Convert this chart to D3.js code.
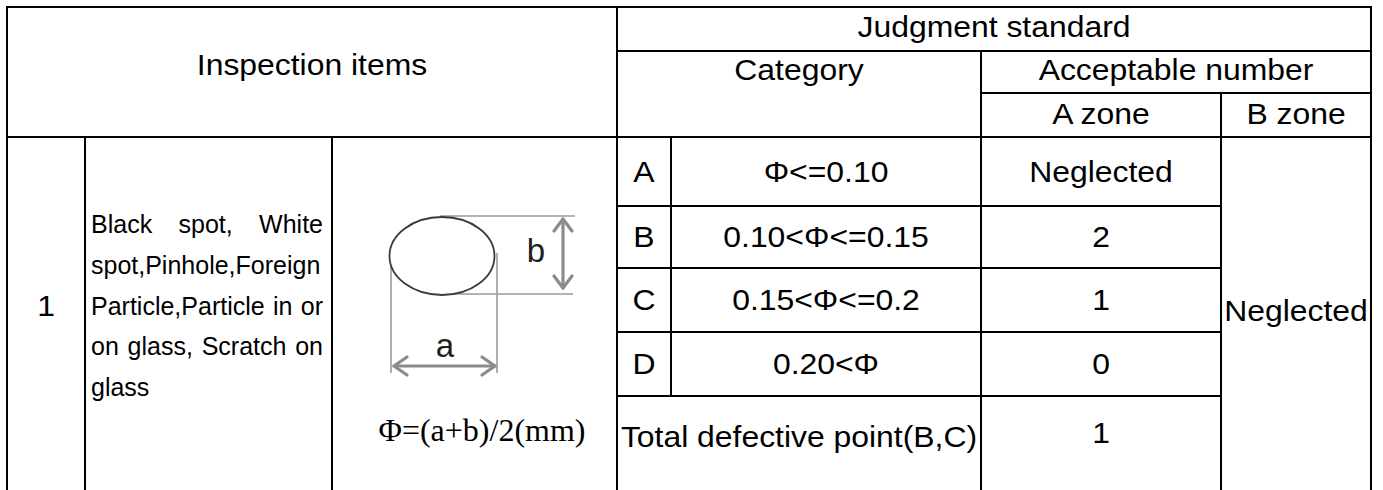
<!DOCTYPE html>
<html>
<head>
<meta charset="utf-8">
<script src="https://cdn.jsdelivr.net/npm/d3@7"></script>
<style>
  html, body { margin: 0; padding: 0; background: #fff; }
  svg { display: block; }
  text { font-family: "Liberation Sans", Arial, sans-serif; fill: #000; }
</style>
</head>
<body>
<svg id="chart" width="1383" height="490"></svg>
<script>
// ---------------- data ----------------
const titleLeft = "Inspection items";
const titleRight = "Judgment standard";
const subHeaders = ["Category", "Acceptable number"];
const zoneLabels = ["A zone", "B zone"];
const categories = ["A", "B", "C", "D"];
const ranges = ["Φ<=0.10", "0.10<Φ<=0.15", "0.15<Φ<=0.2", "0.20<Φ"];
const aZoneValues = ["Neglected", "2", "1", "0"];
const totalLabel = "Total defective point(B,C)";
const totalValue = "1";
const bZoneValue = "Neglected";
const itemNumber = "1";
const itemLines = ["Black spot, White", "spot,Pinhole,Foreign", "Particle,Particle in or", "on glass, Scratch on", "glass"];
const formula = "Φ=(a+b)/2(mm)";
const dimLabels = ["a", "b"];

// ---------------- layout ----------------
const W = 1383, H = 490;
const svg = d3.select("#chart");
svg.append("rect").attr("width", W).attr("height", H).attr("fill", "#fff");

const cx = d3.scaleOrdinal()
  .domain(["left", "noR", "textR", "figR", "catR", "rangeR", "aR", "right"])
  .range([7, 85, 332, 617, 671, 981, 1221, 1371]);
const hy = d3.scaleOrdinal().domain(["top", "h1", "h2", "h3"]).range([7, 51, 93, 137]);
const rowKeys = categories.concat(["Total"]);
const rowTop = d3.scaleOrdinal().domain(rowKeys).range([137, 206, 268, 332, 396]);
const rowBot = d3.scaleOrdinal().domain(rowKeys).range([206, 268, 332, 396, 490]);
const rowMid = k => (rowTop(k) + rowBot(k)) / 2;

const FS = 29, SX = 1.1;
const capOff = FS * 0.36;

// ---------------- grid lines ----------------
const hLines = [
  [hy("top"), cx("left"), cx("right")],
  [hy("h1"), cx("figR"), cx("right")],
  [hy("h2"), cx("rangeR"), cx("right")],
  [hy("h3"), cx("left"), cx("right")],
  ...categories.map(k => [rowBot(k), cx("figR"), cx("aR")])
];
const vLines = [
  [cx("left"), hy("top"), H],
  [cx("figR"), hy("top"), H],
  [cx("right"), hy("top"), H],
  [cx("rangeR"), hy("h1"), H],
  [cx("aR"), hy("h2"), H],
  [cx("noR"), hy("h3"), H],
  [cx("textR"), hy("h3"), H],
  [cx("catR"), hy("h3"), rowBot("D")]
];
const grid = svg.append("g").attr("stroke", "#000").attr("stroke-width", 2).attr("stroke-linecap", "square");
grid.selectAll("line.h").data(hLines).join("line").attr("class", "h")
  .attr("x1", d => d[1]).attr("x2", d => d[2]).attr("y1", d => d[0]).attr("y2", d => d[0]);
grid.selectAll("line.v").data(vLines).join("line").attr("class", "v")
  .attr("x1", d => d[0]).attr("x2", d => d[0]).attr("y1", d => d[1]).attr("y2", d => d[2]);

// ---------------- text helpers ----------------
function label(txt, x, y, opts = {}) {
  const sx = opts.sx || SX;
  return svg.append("text")
    .attr("transform", `translate(${x},${y}) scale(${sx},1)`)
    .attr("text-anchor", opts.anchor || "middle")
    .style("font-size", (opts.size || FS) + "px")
    .style("font-family", opts.family || null)
    .text(txt);
}
function plain(txt, x, y, size) {
  return svg.append("text").attr("x", x).attr("y", y)
    .attr("text-anchor", "start").style("font-size", size + "px").text(txt);
}
const mid = (a, b) => (a + b) / 2;

// header
label(titleLeft, mid(cx("left"), cx("figR")), 75);
label(titleRight, mid(cx("figR"), cx("right")), 37);
label(subHeaders[0], mid(cx("figR"), cx("rangeR")), 80);
label(subHeaders[1], mid(cx("rangeR"), cx("right")), 80);
label(zoneLabels[0], mid(cx("rangeR"), cx("aR")), 124);
label(zoneLabels[1], mid(cx("aR"), cx("right")), 124);

// body rows
categories.forEach((k, i) => {
  const yb = rowMid(k) + capOff;
  label(k, mid(cx("figR"), cx("catR")), yb);
  label(ranges[i], mid(cx("catR"), cx("rangeR")), yb);
  label(aZoneValues[i], mid(cx("rangeR"), cx("aR")), yb);
});
label(totalLabel, mid(cx("figR"), cx("rangeR")), 447);
label(totalValue, mid(cx("rangeR"), cx("aR")), 443);
label(bZoneValue, mid(cx("aR"), cx("right")), 321);
label(itemNumber, mid(cx("left"), cx("noR")), 316);

// justified paragraph
const parX0 = 91, parX1 = 323, parSize = 25;
const parBase = d3.scaleLinear().domain([0, itemLines.length - 1]).range([233, 396]);
itemLines.forEach((line, i) => {
  const words = line.split(" ");
  const y = parBase(i);
  const justify = i < itemLines.length - 1 && words.length > 1;
  if (!justify) { plain(line, parX0, y, parSize); return; }
  const nodes = words.map(w => plain(w, 0, y, parSize));
  const widths = nodes.map(n => n.node().getComputedTextLength());
  const gap = (parX1 - parX0 - d3.sum(widths)) / (words.length - 1);
  let x = parX0;
  nodes.forEach((n, j) => { n.attr("x", x); x += widths[j] + gap; });
});

// ---------------- dimension figure ----------------
const fig = svg.append("g");
const ell = { cx: 442, cy: 256, rx: 52.5, ry: 39 };
const extColor = "#9a9a9a", arrowColor = "#8c8c8c";
const ext = [
  [440, 216, 575, 216], [440, 294, 573, 294],
  [391, 257, 391, 373], [497, 253, 497, 373]
];
fig.selectAll("line.ext").data(ext).join("line").attr("class", "ext")
  .attr("x1", d => d[0]).attr("y1", d => d[1]).attr("x2", d => d[2]).attr("y2", d => d[3])
  .attr("stroke", extColor).attr("stroke-width", 1.6);
fig.append("ellipse").attr("cx", ell.cx).attr("cy", ell.cy).attr("rx", ell.rx).attr("ry", ell.ry)
  .attr("fill", "#fff").attr("stroke", "#3a3a3a").attr("stroke-width", 1.8);
const lineGen = d3.line();
const arrows = [
  [[563, 219], [563, 288]],
  [[554, 231], [563, 219], [572, 231]],
  [[554, 276], [563, 288], [572, 276]],
  [[394, 366], [495, 366]],
  [[407, 357], [394, 366], [407, 375]],
  [[482, 357], [495, 366], [482, 375]]
];
fig.selectAll("path.arr").data(arrows).join("path").attr("class", "arr")
  .attr("d", d => lineGen(d)).attr("fill", "none")
  .attr("stroke", arrowColor).attr("stroke-width", 3.2)
  .attr("stroke-linecap", "round").attr("stroke-linejoin", "round");
label(dimLabels[0], 445, 357, { size: 33, sx: 1 }).style("fill", "#1e1e1e");
label(dimLabels[1], 536, 262, { size: 33, sx: 1 }).style("fill", "#1e1e1e");
label(formula, 482, 441, { size: 32, sx: 1, family: "'Liberation Serif', 'Times New Roman', serif" });
</script>
</body>
</html>
